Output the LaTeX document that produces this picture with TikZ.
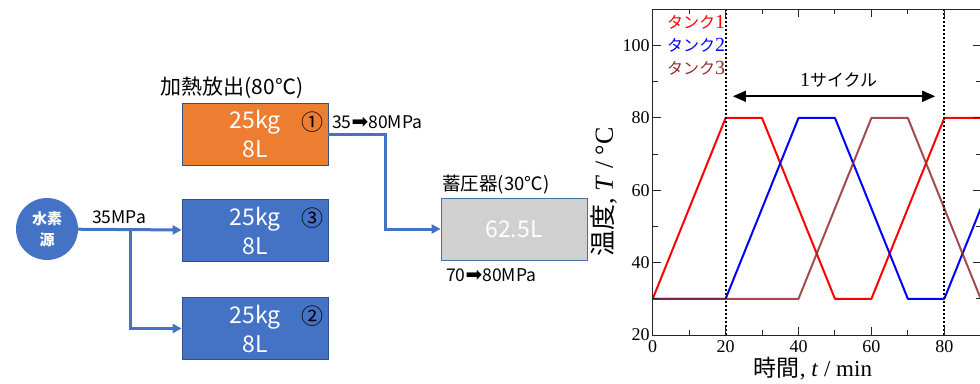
\documentclass[tikz,border=0pt]{standalone}
\usepackage{fontspec}
\setmainfont{Liberation Serif}
\newfontfamily\jp{Noto Sans CJK JP}
\newfontfamily\dv{DejaVu Sans}
\usetikzlibrary{arrows.meta}

\definecolor{officeblue}{HTML}{4472C4}
\definecolor{officeorange}{HTML}{ED7D31}
\definecolor{tankedge}{HTML}{2F528F}
\definecolor{accgray}{HTML}{D0D0D0}
\definecolor{accedge}{HTML}{4A6FA5}
\definecolor{tankbrown}{HTML}{962C2C}

\newcommand{\fsz}[2]{\fontsize{#1}{#2}\selectfont}
\newcommand{\harr}{{\dv\fsz{20}{20}\raisebox{-0.5pt}{➡}}}

\tikzset{
  tankbox/.style={rectangle, draw=tankedge, line width=0.8pt, minimum width=146pt,
    minimum height=62pt, text=white, align=center, inner sep=0pt,
    font=\jp\fsz{23}{29}},
  tanknum/.style={font=\jp\fsz{22}{22}, inner sep=0pt},
  pipe/.style={officeblue, line width=3pt, -{Triangle[length=9pt,width=9pt]}},
  lbl/.style={font=\jp\fsz{17.5}{17.5}, inner sep=0pt},
  axisline/.style={line width=1pt, black!85},
  curve/.style={line width=2pt, line join=round},
  ticklbl/.style={font=\fsz{18}{18}, inner sep=0pt},
  cycle/.style={dash pattern=on 2pt off 2pt, line width=2pt},
  legend/.style={anchor=west, font=\fsz{20}{20}, inner sep=0pt},
}

\begin{document}
\begin{tikzpicture}[x=1pt, y=-1pt]
\useasboundingbox (0,0) rectangle (980,383);

% ---- hydrogen supply and tanks ----
\node[circle, fill=officeblue, minimum size=62pt, inner sep=0pt, text=white,
      align=center, font=\jp\bfseries\fsz{15}{21}] (src) at (47,229) {水素\\源};

\node[tankbox, fill=officeorange] (t1) at (255,134) {25kg\\8L};
\node[tankbox, fill=officeblue]   (t3) at (255,230.5) {25kg\\8L};
\node[tankbox, fill=officeblue]   (t2) at (255,328.5) {25kg\\8L};
\node[tanknum] (n1) at (312,122) {①};
\node[tanknum] (n3) at (312,218) {③};
\node[tanknum] (n2) at (312,316) {②};

\node[rectangle, draw=accedge, line width=0.8pt, fill=accgray, minimum width=146pt,
      minimum height=62pt, text=white, font=\jp\fsz{23}{23}] (acc) at (514,229) {62.5L};

\coordinate (br) at (130,229);
\coordinate (bend) at (385,229);
\draw[pipe] (src) -- (t3);
\draw[pipe] (br) |- (t2);
\draw[pipe] (t1.east) -| (bend) -- (acc.west);

\node[lbl, font=\jp\fsz{21}{21}] (hot) at (232,88) {加熱放出(80℃)};
\node[lbl, anchor=west] (p1) at (332,122) {35\harr80MPa};
\node[lbl] (p0) at (119,217) {35MPa};
\node[lbl, font=\jp\fsz{18.5}{18.5}] (acct) at (496,185) {蓄圧器(30℃)};
\node[lbl, anchor=west] (p2) at (446,275) {70\harr80MPa};

% ---- temperature plot ----
\begin{scope}[shift={(652.7pt,-407.34pt)}, x=3.645pt, y=3.617pt]
  % curves
  \draw[curve, red] (0,30) -- (20,80) -- (30,80) -- (50,30) -- (60,30) -- (80,80) -- (90,80);
  \draw[curve, blue] (0,30) -- (20,30) -- (40,80) -- (50,80) -- (70,30) -- (80,30) -- (90,55);
  \draw[curve, tankbrown, opacity=0.85] (0,30) -- (40,30) -- (60,80) -- (70,80) -- (90,30);

  % cycle markers
  \draw[cycle] (20,20) -- (20,110);
  \draw[cycle] (80,20) -- (80,110);
  \draw[line width=1.6pt, {Triangle[length=13pt,width=11pt]}-{Triangle[length=13pt,width=11pt]}]
    (22,86) -- (77.5,86);
  \node[font=\fsz{17}{17}, inner sep=0pt] (cyc) at (51,90.5) {{\fsz{20}{20}1}{\jp サイクル}};

  % frame and ticks
  \draw[axisline] (0,20) rectangle (90,110);
  \foreach \x in {0,20,...,80} {
    \draw[axisline] (\x,20) -- ++(0,8pt);
    \draw[axisline] (\x,110) -- ++(0,-8pt);
    \node[ticklbl, anchor=north] at ([yshift=-5pt]\x,20) {\x};
  }
  \foreach \x in {10,30,...,70} {
    \draw[axisline] (\x,20) -- ++(0,5pt);
    \draw[axisline] (\x,110) -- ++(0,-5pt);
  }
  \foreach \y in {20,40,...,100} {
    \draw[axisline] (0,\y) -- ++(8pt,0);
    \draw[axisline] (90,\y) -- ++(-8pt,0);
    \node[ticklbl, anchor=east] at ([xshift=-3pt]0,\y) {\y};
  }
  \foreach \y in {30,50,...,90} {
    \draw[axisline] (0,\y) -- ++(5pt,0);
    \draw[axisline] (90,\y) -- ++(-5pt,0);
  }
\end{scope}

% legend and axis titles
\node[legend, red] (l1) at (667,22) {{\jp\fsz{16}{16}タンク}1};
\node[legend, blue] (l2) at (667,45) {{\jp\fsz{16}{16}タンク}2};
\node[legend, tankbrown] (l3) at (667,68) {{\jp\fsz{16}{16}タンク}3};

\node[font=\fsz{23}{23}, inner sep=0pt] (xl) at (813,369) {{\jp 時間}, \textit{t} / min};
\node[font=\fsz{26}{26}, inner sep=0pt, rotate=90] (yl) at (604,192) {{\jp 温度}, \textit{T} / °C};
\end{tikzpicture}
\end{document}
